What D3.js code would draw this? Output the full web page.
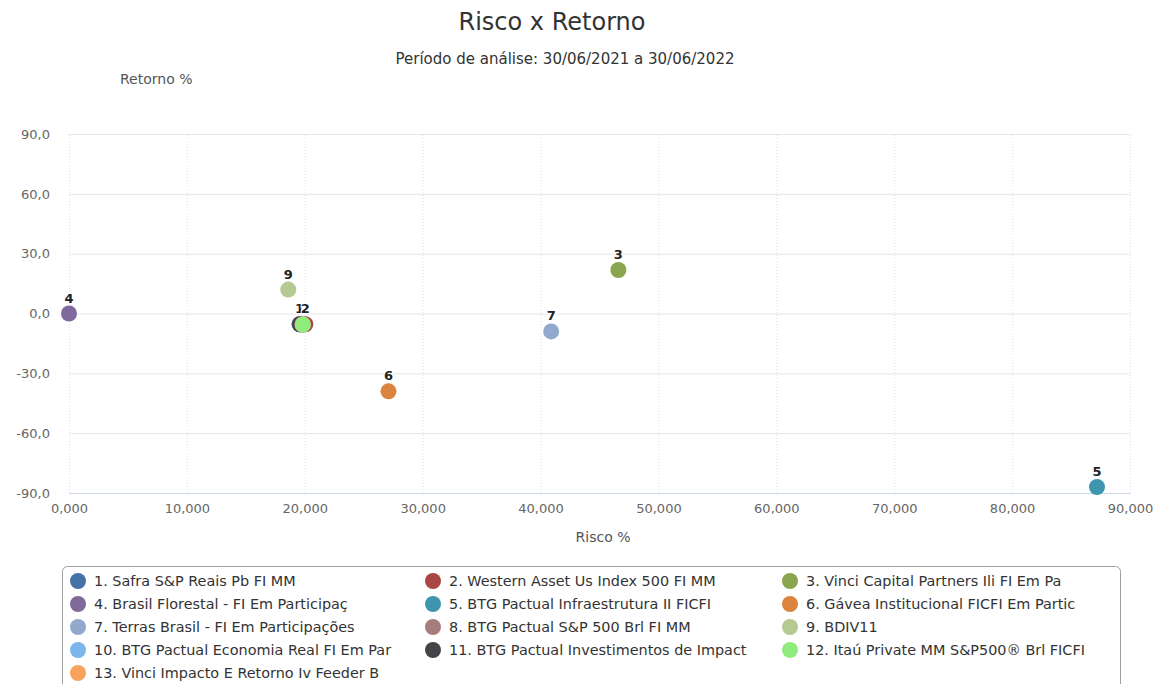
<!DOCTYPE html>
<html><head><meta charset="utf-8">
<script src="https://cdn.jsdelivr.net/npm/d3@7"></script>
<style>
body{margin:0;background:#fff;}
svg{display:block;font-family:"DejaVu Sans",sans-serif;}
</style></head>
<body><svg id="c" width="1160" height="684"></svg>
<script>
const seriesNames = [
 "1. Safra S&P Reais Pb FI MM",
 "2. Western Asset Us Index 500 FI MM",
 "3. Vinci Capital Partners Ili FI Em Pa",
 "4. Brasil Florestal - FI Em Participaç",
 "5. BTG Pactual Infraestrutura II FICFI",
 "6. Gávea Institucional FICFI Em Partic",
 "7. Terras Brasil - FI Em Participações",
 "8. BTG Pactual S&P 500 Brl FI MM",
 "9. BDIV11",
 "10. BTG Pactual Economia Real FI Em Par",
 "11. BTG Pactual Investimentos de Impact",
 "12. Itaú Private MM S&P500® Brl FICFI",
 "13. Vinci Impacto E Retorno Iv Feeder B"
];
const pointLabels = ["1","2","3","4","5","6","7","8","9","10","11","12","13"];
const risco   = [19.55, 20.05, 46.6, 0.0, 87.2, 27.1, 40.9, 19.8, 18.6, 19.75, 19.6, 19.85, 19.8];
const retorno = [-5.4, -5.4, 21.8, 0.0, -87.0, -39.0, -9.0, -5.5, 12.0, -5.5, -5.4, -5.5, -5.5];
const colors = ["#4572A7","#AA4643","#89A54E","#80699B","#3D96AE","#DB843D","#92A8CD","#A47D7C","#B5CA92","#7cb5ec","#434348","#90ed7d","#f7a35c"];
const drawOrder = [0,1,2,3,4,5,6,7,8,9,10,12,11];
const xTicks = [0,10,20,30,40,50,60,70,80,90];
const yTicks = [-90,-60,-30,0,30,60,90];
const titleText = "Risco x Retorno";
const subtitleText = "Período de análise: 30/06/2021 a 30/06/2022";
const xTitle = "Risco %";
const yTitle = "Retorno %";

const svg = d3.select("#c");
const L = 69, R = 1130, T = 134, B = 493;
const x = d3.scaleLinear().domain([0,90]).range([L,R]);
const y = d3.scaleLinear().domain([-90,90]).range([B,T]);
const fmtX = v => d3.format(".3f")(v).replace(".",",");
const fmtY = v => d3.format(".1f")(v).replace(".",",").replace("−","-");

svg.append("text").attr("x",552).attr("y",30).attr("text-anchor","middle")
  .attr("font-size",24).attr("fill","#333").text(titleText);
svg.append("text").attr("x",565).attr("y",64).attr("text-anchor","middle")
  .attr("font-size",15).attr("fill","#333").text(subtitleText);
svg.append("text").attr("x",120).attr("y",84)
  .attr("font-size",14).attr("fill","#555").text(yTitle);

// gridlines
const gy = svg.append("g").attr("transform",`translate(${L},0)`)
  .call(d3.axisLeft(y).tickValues(yTicks).tickSize(-(R-L)).tickFormat(""));
gy.select(".domain").remove();
gy.selectAll("line").attr("stroke","#e6e6e6");
const gx = svg.append("g").attr("transform",`translate(0,${B})`)
  .call(d3.axisBottom(x).tickValues(xTicks).tickSize(-(B-T)).tickFormat(""));
gx.select(".domain").remove();
gx.selectAll("line").attr("stroke","#e3e3e3").attr("stroke-dasharray","1,2");

// y labels
const ya = svg.append("g").attr("transform",`translate(${L-16},0)`)
  .call(d3.axisLeft(y).tickValues(yTicks).tickSize(0).tickFormat(fmtY));
ya.select(".domain").remove();
ya.selectAll("text").attr("font-size",13).attr("fill","#666").attr("font-family","DejaVu Sans");

// x axis
const xa = svg.append("g").attr("transform",`translate(0,${B})`)
  .call(d3.axisBottom(x).tickValues(xTicks).tickSize(0).tickPadding(11).tickFormat(fmtX));
xa.select(".domain").attr("stroke","#ccd6eb");
xa.selectAll("text").attr("font-size",13).attr("fill","#666").attr("font-family","DejaVu Sans");
svg.append("text").attr("x",603).attr("y",542).attr("text-anchor","middle")
  .attr("font-size",14).attr("fill","#555").text(xTitle);

// points
const pts = drawOrder.map(i => ({i, cx:x(risco[i]), cy:y(retorno[i])}));
svg.append("g").selectAll("circle").data(pts).join("circle")
  .attr("cx",d=>d.cx).attr("cy",d=>d.cy).attr("r",8).attr("fill",d=>colors[d.i]);

// labels with simple overlap hiding
const shown = [];
const labs = [];
d3.range(risco.length).forEach(i => {
  const lx = x(risco[i]), ly = y(retorno[i]) - 11;
  const clash = shown.some(s => Math.abs(s[0]-lx) < 3.5 && Math.abs(s[1]-ly) < 10);
  if (!clash) { shown.push([lx,ly]); labs.push({i,lx,ly}); }
});
svg.append("g").selectAll("text").data(labs).join("text")
  .attr("x",d=>d.lx).attr("y",d=>d.ly).attr("text-anchor","middle")
  .attr("font-size",13).attr("font-weight","bold").attr("fill","#222")
  .attr("stroke","#fff").attr("stroke-width",2).attr("paint-order","stroke")
  .text(d=>pointLabels[d.i]);

// legend
svg.append("rect").attr("x",62.5).attr("y",566.5).attr("width",1058).attr("height",140)
  .attr("rx",5).attr("fill","#fff").attr("stroke","#a0a0a0");
const colX = [78, 433, 790];
const lg = svg.append("g").selectAll("g").data(seriesNames).join("g")
  .attr("transform",(d,i)=>`translate(${colX[i%3]},${581 + Math.floor(i/3)*23})`);
lg.append("circle").attr("r",8).attr("fill",(d,i)=>colors[i]);
lg.append("text").attr("x",16).attr("y",5).attr("font-size",14.4).attr("fill","#333").text(d=>d);
</script></body></html>
